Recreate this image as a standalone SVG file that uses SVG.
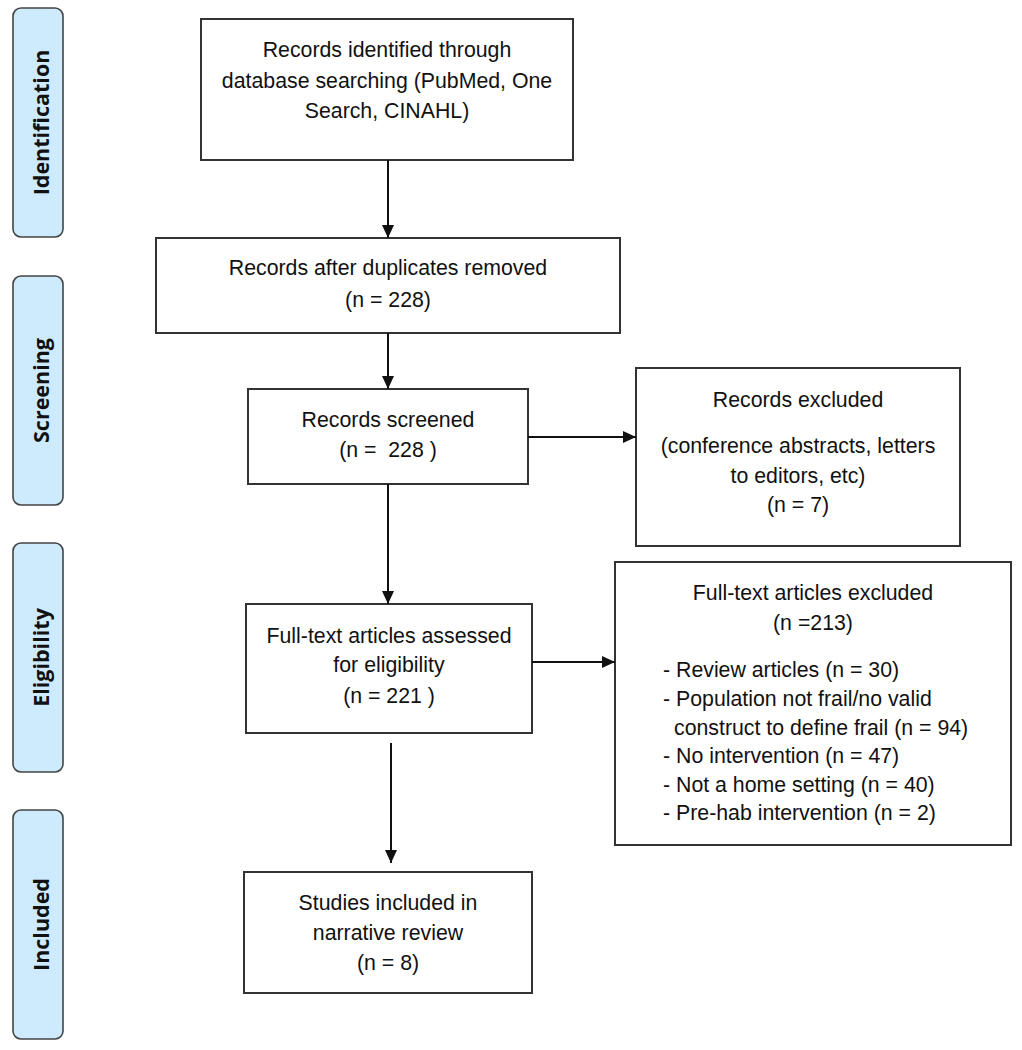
<svg xmlns="http://www.w3.org/2000/svg" width="1022" height="1050" viewBox="0 0 1022 1050">
<style>
.bg{fill:#ffffff}
.box{fill:#ffffff;stroke:#333333;stroke-width:2}
.phase{fill:#cdebfd;stroke:#444444;stroke-width:1.6}
.t{font-family:"Liberation Sans",Arial,sans-serif;font-size:21.3px;fill:#111111;text-anchor:middle}
.tl{font-family:"Liberation Sans",Arial,sans-serif;font-size:21.3px;fill:#111111}
.pl{font-family:"Open Sans","DejaVu Sans",sans-serif;font-size:21.5px;font-weight:700;fill:#111111;text-anchor:middle}
.c{stroke:#111111;stroke-width:2;fill:none;marker-end:url(#ah)}
</style>
<defs>
<marker id="ah" markerUnits="userSpaceOnUse" markerWidth="13" markerHeight="12" viewBox="0 0 13 12" refX="13" refY="6" orient="auto">
<path d="M0,0 L13,6 L0,12 z" fill="#111111"/>
</marker>
</defs>
<rect class="bg" x="0" y="0" width="1022" height="1050"/>

<g id="phase-identification">
<rect class="phase" x="13" y="8" width="50" height="229" rx="8"/>
<text class="pl" transform="translate(49,122.5) rotate(-90)">Identification</text>
</g>
<g id="phase-screening">
<rect class="phase" x="13" y="276" width="50" height="229" rx="8"/>
<text class="pl" transform="translate(49,390.5) rotate(-90)">Screening</text>
</g>
<g id="phase-eligibility">
<rect class="phase" x="13" y="543" width="50" height="229" rx="8"/>
<text class="pl" transform="translate(49,657.5) rotate(-90)">Eligibility</text>
</g>
<g id="phase-included">
<rect class="phase" x="13" y="810" width="50" height="229" rx="8"/>
<text class="pl" transform="translate(49,924.5) rotate(-90)">Included</text>
</g>

<g id="node-identified">
<rect class="box" x="201" y="19" width="372" height="141"/>
<text class="t" x="387" y="57">Records identified through</text>
<text class="t" x="387" y="88">database searching (PubMed, One</text>
<text class="t" x="387" y="118">Search, CINAHL)</text>
</g>
<g id="node-duplicates">
<rect class="box" x="156" y="238" width="464" height="95"/>
<text class="t" x="388" y="275">Records after duplicates removed</text>
<text class="t" x="388" y="307">(n = 228)</text>
</g>
<g id="node-screened">
<rect class="box" x="248" y="389" width="280" height="95"/>
<text class="t" x="388" y="427">Records screened</text>
<text class="t" x="388" y="457" xml:space="preserve">(n =  228 )</text>
</g>
<g id="node-excluded">
<rect class="box" x="636" y="368" width="324" height="178"/>
<text class="t" x="798" y="407">Records excluded</text>
<text class="t" x="798" y="453">(conference abstracts, letters</text>
<text class="t" x="798" y="483">to editors, etc)</text>
<text class="t" x="798" y="512">(n = 7)</text>
</g>
<g id="node-fulltext">
<rect class="box" x="246" y="604" width="286" height="129"/>
<text class="t" x="389" y="643">Full-text articles assessed</text>
<text class="t" x="389" y="672">for eligibility</text>
<text class="t" x="389" y="703">(n = 221 )</text>
</g>
<g id="node-fulltext-excluded">
<rect class="box" x="615" y="562" width="396" height="283"/>
<text class="t" x="813" y="600">Full-text articles excluded</text>
<text class="t" x="813" y="630">(n =213)</text>
<text class="tl" x="663" y="677">- Review articles (n = 30)</text>
<text class="tl" x="663" y="706">- Population not frail/no valid</text>
<text class="tl" x="674" y="735">construct to define frail (n = 94)</text>
<text class="tl" x="663" y="763">- No intervention (n = 47)</text>
<text class="tl" x="663" y="792">- Not a home setting (n = 40)</text>
<text class="tl" x="663" y="820">- Pre-hab intervention (n = 2)</text>
</g>
<g id="node-included">
<rect class="box" x="244" y="872" width="288" height="121"/>
<text class="t" x="388" y="910">Studies included in</text>
<text class="t" x="388" y="940">narrative review</text>
<text class="t" x="388" y="970">(n = 8)</text>
</g>

<g id="connectors">
<line class="c" x1="388" y1="160" x2="388" y2="238"/>
<line class="c" x1="388" y1="333" x2="388" y2="389"/>
<line class="c" x1="528" y1="437" x2="636" y2="437"/>
<line class="c" x1="388" y1="484" x2="388" y2="604"/>
<line class="c" x1="532" y1="662" x2="615" y2="662"/>
<line class="c" x1="391" y1="743" x2="391" y2="863"/>
</g>
</svg>
